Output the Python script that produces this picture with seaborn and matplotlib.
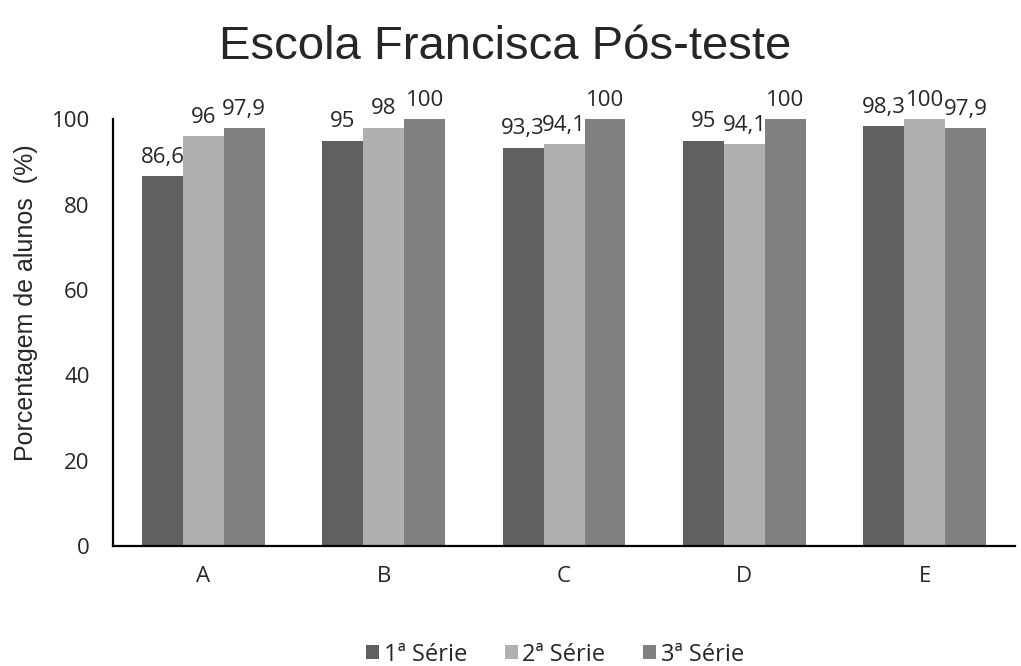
import numpy as np
import pandas as pd
import matplotlib.pyplot as plt
import seaborn as sns

escolas = ['A', 'B', 'C', 'D', 'E']
serie1 = [86.6, 95, 93.3, 95, 98.3]
serie2 = [96, 98, 94.1, 94.1, 100]
serie3 = [97.9, 100, 100, 100, 97.9]
series = ['1ª Série', '2ª Série', '3ª Série']
cores = ['#606060', '#b0b0b0', '#808080']

df = pd.DataFrame({'escola': escolas * 3,
                   'valor': serie1 + serie2 + serie3,
                   'serie': [s for s in series for _ in escolas]})

sns.set_style('white')
plt.rcParams['font.family'] = ['Open Sans', 'DejaVu Sans']

fig = plt.figure(figsize=(10.21, 6.66), dpi=100)
ax = fig.add_axes([0.111, 0.180, 0.883, 0.641])
sns.barplot(data=df, x='escola', y='valor', hue='serie', palette=cores,
            width=0.68, ax=ax, saturation=1, legend=True, linewidth=0)

for cont in ax.containers:
    labels = [('%g' % v.get_height()).replace('.', ',') for v in cont]
    ax.bar_label(cont, labels=labels, padding=6, fontsize=16, clip_on=False)

ax.set_ylim(0, 100)
ax.set_xlim(-0.5, 4.5)
ax.set_yticks([0, 20, 40, 60, 80, 100])
ax.tick_params(axis='both', labelsize=16, length=0)
ax.tick_params(axis='x', pad=14)
ax.tick_params(axis='y', pad=17)
ax.set_xlabel('')
ax.set_ylabel('Porcentagem de alunos  (%)', fontsize=18, family='Liberation Sans')
ax.yaxis.set_label_coords(-0.084, 0.571)
sns.despine(ax=ax)
for s in ['left', 'bottom']:
    ax.spines[s].set_color('black')
    ax.spines[s].set_linewidth(1.6)

fig.suptitle('Escola Francisca Pós-teste', fontsize=34, family='Liberation Sans',
             x=0.495, y=0.962)

ax.legend(loc='lower center', bbox_to_anchor=(0.49, -0.31), ncol=3, frameon=False,
          fontsize=17, handlelength=0.55, handleheight=0.55, handletextpad=0.2,
          columnspacing=1.6, title=None, borderpad=0)

fig.savefig('out.png', dpi=100)
